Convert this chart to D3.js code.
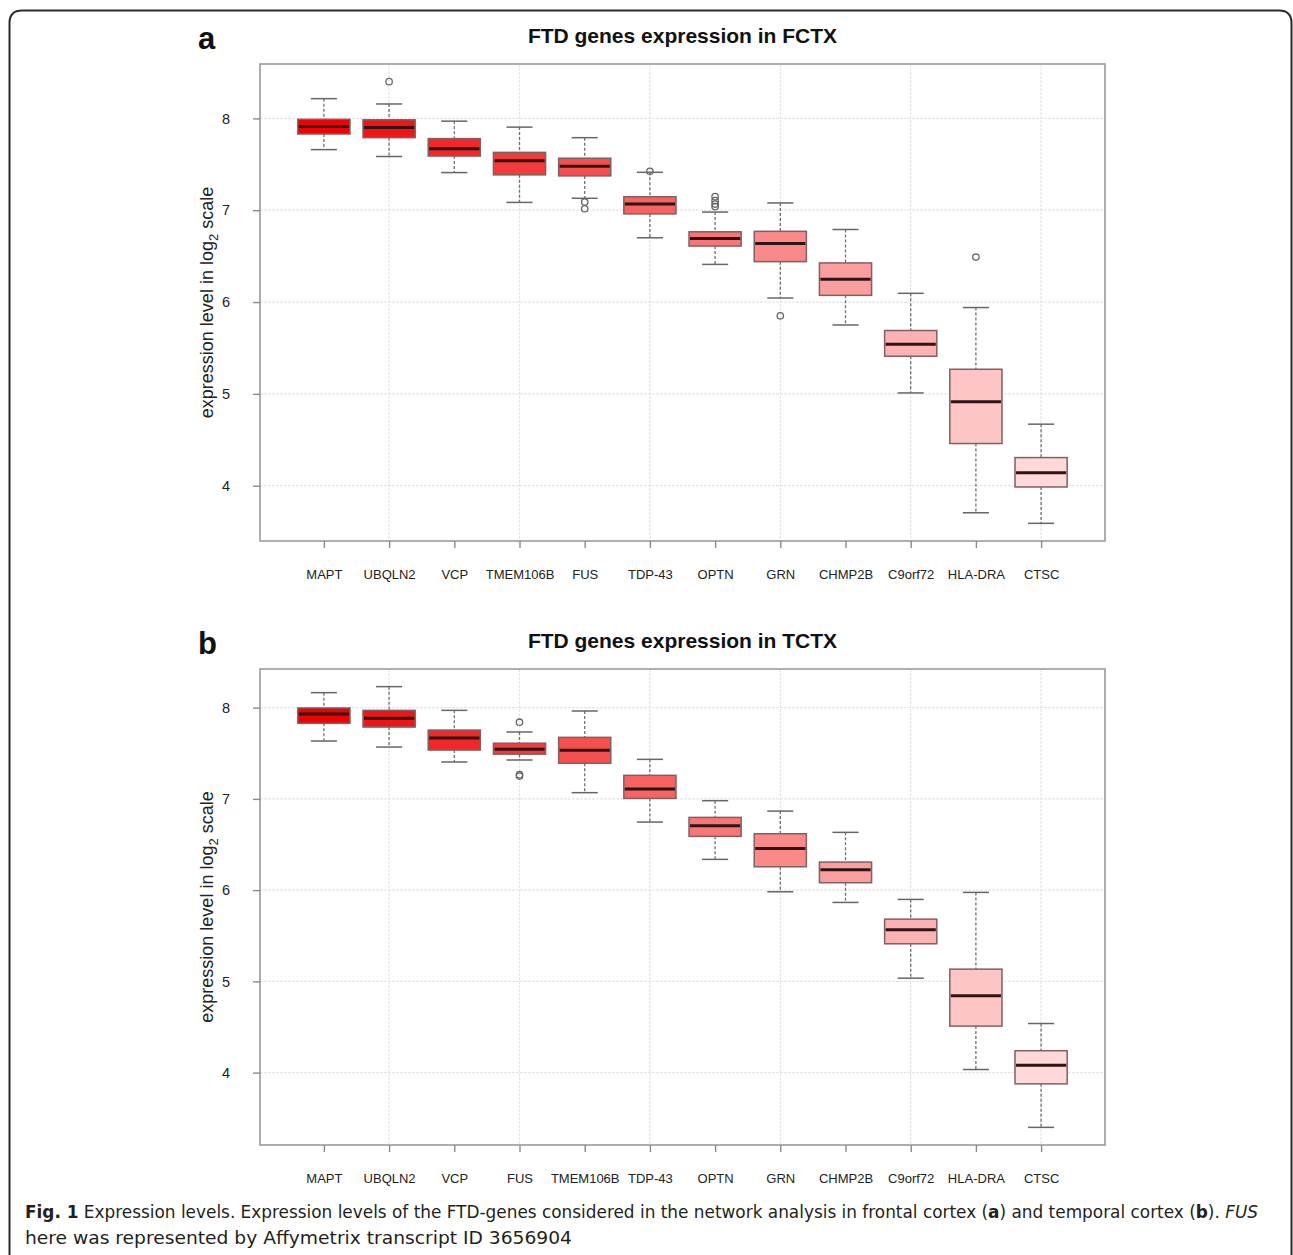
<!DOCTYPE html>
<html>
<head>
<meta charset="utf-8">
<script src="https://cdn.jsdelivr.net/npm/d3@7"></script>
<style>
  body { margin: 0; background: #fff; }
  svg { display: block; }
</style>
</head>
<body>
<svg id="fig" width="1293" height="1255"></svg>
<script>
// panel a: frontal cortex
const genesA = ["MAPT", "UBQLN2", "VCP", "TMEM106B", "FUS", "TDP-43", "OPTN", "GRN", "CHMP2B", "C9orf72", "HLA-DRA", "CTSC"];
const lowA   = [7.66, 7.585, 7.41, 7.085, 7.13, 6.70, 6.41, 6.044, 5.75, 5.01, 3.705, 3.59];
const q1A    = [7.83, 7.79, 7.59, 7.385, 7.374, 6.96, 6.61, 6.44, 6.073, 5.41, 4.459, 3.986];
const medA   = [7.913, 7.90, 7.67, 7.54, 7.48, 7.067, 6.693, 6.637, 6.248, 5.54, 4.915, 4.142];
const q3A    = [7.99, 7.985, 7.78, 7.63, 7.566, 7.147, 6.765, 6.77, 6.426, 5.69, 5.268, 4.306];
const highA  = [8.215, 8.157, 7.97, 7.905, 7.79, 7.413, 6.98, 7.079, 6.79, 6.095, 5.94, 4.67];
const outA   = [["UBQLN2", 8.40], ["FUS", 7.09], ["FUS", 7.016], ["TDP-43", 7.424],
                ["OPTN", 7.148], ["OPTN", 7.104], ["OPTN", 7.067], ["OPTN", 7.04],
                ["GRN", 5.85], ["HLA-DRA", 6.49]];

// panel b: temporal cortex
const genesB = ["MAPT", "UBQLN2", "VCP", "FUS", "TMEM106B", "TDP-43", "OPTN", "GRN", "CHMP2B", "C9orf72", "HLA-DRA", "CTSC"];
const lowB   = [7.634, 7.568, 7.404, 7.426, 7.068, 6.746, 6.337, 5.982, 5.865, 5.035, 4.034, 3.40];
const q1B    = [7.828, 7.787, 7.535, 7.49, 7.39, 7.005, 6.589, 6.256, 6.081, 5.412, 4.51, 3.877];
const medB   = [7.93, 7.883, 7.667, 7.543, 7.532, 7.108, 6.706, 6.457, 6.224, 5.566, 4.842, 4.081];
const q3B    = [7.996, 7.97, 7.754, 7.61, 7.674, 7.258, 6.797, 6.618, 6.307, 5.682, 5.134, 4.24];
const highB  = [8.164, 8.23, 7.97, 7.733, 7.963, 7.433, 6.98, 6.866, 6.633, 5.898, 5.975, 4.538];
const outB   = [["FUS", 7.84], ["FUS", 7.265], ["FUS", 7.25]];

const yTicks = [4, 5, 6, 7, 8];

const svg = d3.select("#fig");
const font = "'Liberation Sans', Arial, Helvetica, sans-serif";
const left = 260, right = 1105;
const fills = d3.quantize(d3.interpolateRgb("#f00000", "#ffd9d9"), 12);

// outer figure frame
svg.append("path")
  .attr("d", "M9.5,1255 V23 Q9.5,10.5 22,10.5 H1279 Q1291.5,10.5 1291.5,23 V1255")
  .attr("fill", "none").attr("stroke", "#2b2b2b").attr("stroke-width", 2);

function drawPanel(letter, title, genes, low, q1, med, q3, high, outs, top, bottom) {
  const all = low.concat(high, outs.map(d => d[1]));
  const lo = d3.min(all), hi = d3.max(all), pad = (hi - lo) * 0.04;
  const y = d3.scaleLinear().domain([lo - pad, hi + pad]).range([bottom, top]);
  const x = d3.scaleLinear().domain([0.02, 12.98]).range([left, right]);
  const bw = x(0.8) - x(0), cw = x(0.4) - x(0);
  const g = svg.append("g");

  // grid
  g.selectAll("line.hg").data(yTicks).enter().append("line")
    .attr("x1", left).attr("x2", right)
    .attr("y1", d => y(d)).attr("y2", d => y(d))
    .attr("stroke", "#e6e6e6").attr("stroke-width", 1.2).attr("stroke-dasharray", "3,1");
  g.selectAll("line.vg").data(genes.filter((d, i) => i % 2 == 1)).enter().append("line")
    .attr("x1", d => x(genes.indexOf(d) + 1)).attr("x2", d => x(genes.indexOf(d) + 1))
    .attr("y1", top).attr("y2", bottom)
    .attr("stroke", "#e6e6e6").attr("stroke-width", 1.2).attr("stroke-dasharray", "3,1");

  const rows = genes.map((name, i) => ({ name, i, lo: low[i], q1: q1[i], med: med[i], q3: q3[i], hi: high[i] }));
  const box = g.selectAll("g.box").data(rows).enter().append("g")
    .attr("transform", d => "translate(" + x(d.i + 1) + ",0)");

  // whiskers
  box.append("line").attr("y1", d => y(d.hi)).attr("y2", d => y(d.q3))
    .attr("stroke", "#707070").attr("stroke-width", 1.3).attr("stroke-dasharray", "3,2");
  box.append("line").attr("y1", d => y(d.q1)).attr("y2", d => y(d.lo))
    .attr("stroke", "#707070").attr("stroke-width", 1.3).attr("stroke-dasharray", "3,2");
  box.append("line").attr("x1", -cw / 2).attr("x2", cw / 2)
    .attr("y1", d => y(d.hi)).attr("y2", d => y(d.hi))
    .attr("stroke", "#666").attr("stroke-width", 1.5);
  box.append("line").attr("x1", -cw / 2).attr("x2", cw / 2)
    .attr("y1", d => y(d.lo)).attr("y2", d => y(d.lo))
    .attr("stroke", "#666").attr("stroke-width", 1.5);

  box.append("rect")
    .attr("x", -bw / 2).attr("width", bw)
    .attr("y", d => y(d.q3)).attr("height", d => y(d.q1) - y(d.q3))
    .attr("fill", d => fills[d.i])
    .attr("stroke", "#806060").attr("stroke-width", 1.5);
  box.append("line").attr("x1", -bw / 2 + 1).attr("x2", bw / 2 - 1)
    .attr("y1", d => y(d.med)).attr("y2", d => y(d.med))
    .attr("stroke", "#2e1414").attr("stroke-width", 3);

  // outliers
  g.selectAll("circle").data(outs).enter().append("circle")
    .attr("cx", d => x(genes.indexOf(d[0]) + 1)).attr("cy", d => y(d[1]))
    .attr("r", 3.2).attr("fill", "none").attr("stroke", "#666").attr("stroke-width", 1.3);

  // frame
  g.append("rect").attr("x", left).attr("y", top)
    .attr("width", right - left).attr("height", bottom - top)
    .attr("fill", "none").attr("stroke", "#9a9a9a").attr("stroke-width", 1.6);

  // axes
  const yAxis = g.append("g").attr("transform", "translate(" + left + ",0)")
    .call(d3.axisLeft(y).tickValues(yTicks).tickSize(7).tickPadding(21).tickFormat(d3.format("d")));
  const xAxis = g.append("g").attr("transform", "translate(0," + bottom + ")")
    .call(d3.axisBottom(x).tickValues(d3.range(1, 13)).tickSize(7).tickPadding(22)
      .tickFormat(d => genes[d - 1]));
  [yAxis, xAxis].forEach(a => {
    a.select(".domain").remove();
    a.selectAll(".tick line").attr("stroke", "#8a8a8a").attr("stroke-width", 1.4);
    a.selectAll("text").attr("fill", "#222").style("font-family", font).style("font-size", "13px");
  });
  yAxis.selectAll("text").attr("text-anchor", "middle").attr("dx", "-6").style("font-size", "14.5px");

  // y title
  const yt = g.append("text")
    .attr("transform", "translate(213," + ((top + bottom) / 2) + ") rotate(-90)")
    .attr("text-anchor", "middle").attr("fill", "#222")
    .style("font-family", font).style("font-size", "18px");
  yt.append("tspan").text("expression level in log");
  yt.append("tspan").attr("dy", 5).style("font-size", "13px").text("2");
  yt.append("tspan").attr("dy", -5).text(" scale");

  // title and panel letter
  g.append("text").attr("x", (left + right) / 2).attr("y", top - 21)
    .attr("text-anchor", "middle").attr("fill", "#111")
    .style("font-family", font).style("font-size", "21px").style("font-weight", "bold")
    .text(title);
  g.append("text").attr("x", 198).attr("y", top - 15)
    .attr("fill", "#111")
    .style("font-family", font).style("font-size", "31px").style("font-weight", "bold")
    .text(letter);
}

drawPanel("a", "FTD genes expression in FCTX", genesA, lowA, q1A, medA, q3A, highA, outA, 64, 541);
drawPanel("b", "FTD genes expression in TCTX", genesB, lowB, q1B, medB, q3B, highB, outB, 669, 1145);

// caption
const capFont = "'Liberation Sans Narrow', 'DejaVu Sans Condensed', 'Noto Sans', sans-serif";
const c1 = svg.append("text").attr("x", 25).attr("y", 1218)
  .attr("fill", "#231f20").style("font-family", capFont).style("font-size", "18px")
  .attr("textLength", 1233).attr("lengthAdjust", "spacingAndGlyphs");
c1.append("tspan").style("font-weight", "bold").text("Fig. 1");
c1.append("tspan").text(" Expression levels. Expression levels of the FTD-genes considered in the network analysis in frontal cortex (");
c1.append("tspan").style("font-weight", "bold").text("a");
c1.append("tspan").text(") and temporal cortex (");
c1.append("tspan").style("font-weight", "bold").text("b");
c1.append("tspan").text("). ");
c1.append("tspan").style("font-style", "italic").text("FUS");
svg.append("text").attr("x", 25).attr("y", 1244)
  .attr("fill", "#231f20").style("font-family", capFont).style("font-size", "18px")
  .attr("textLength", 547).attr("lengthAdjust", "spacingAndGlyphs")
  .text("here was represented by Affymetrix transcript ID 3656904");
</script>
</body>
</html>
